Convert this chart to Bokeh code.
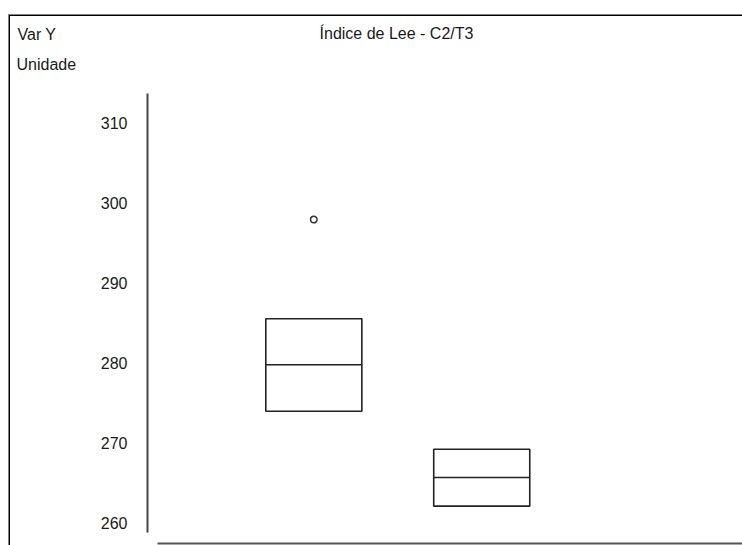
from bokeh.plotting import figure
from bokeh.models import Range1d, FixedTicker, Label, ColumnDataSource
from bokeh.embed import file_html
from bokeh.resources import INLINE

# ---- data ----
groups = ["C2", "T3"]
q1 = [273.95, 262.08]
median = [279.75, 265.66]
q3 = [285.5, 269.2]
outlier_group = ["C2"]
outlier_value = [297.9]
y_ticks = [260, 270, 280, 290, 300, 310]

title_text = "Índice de Lee - C2/T3"
var_label = "Var Y"
unit_label = "Unidade"

FONT = "Liberation Sans"
BOX_W = 0.572

pos = [i + 1 for i in range(len(groups))]
src = ColumnDataSource(dict(
    x=pos,
    q1=q1, q3=q3, med=median,
    x0=[p_ - BOX_W / 2 for p_ in pos],
    x1=[p_ + BOX_W / 2 for p_ in pos],
))
out_src = ColumnDataSource(dict(
    x=[groups.index(g) + 1 for g in outlier_group],
    y=outlier_value,
))

p = figure(width=742, height=545, output_backend="svg", toolbar_location=None,
           x_range=Range1d(-0.866, 3.553), y_range=Range1d(257.16, 325.29),
           min_border_left=0, min_border_right=0, min_border_top=0,
           min_border_bottom=0)
p.title.visible = False
p.outline_line_color = None
p.border_fill_color = None
p.background_fill_color = None
p.grid.visible = False

# outer window frame (top/left edges) drawn as page background lines
p.styles = {
    "background": (
        "linear-gradient(#808080,#808080) 8px 14px / 100% 1px no-repeat, "
        "linear-gradient(#000,#000) 9px 15px / 100% 1px no-repeat, "
        "linear-gradient(#808080,#808080) 8px 14px / 1px 100% no-repeat, "
        "linear-gradient(#000,#000) 9px 15px / 1px 100% no-repeat, #ffffff"
    )
}

# y axis
ya = p.yaxis[0]
ya.fixed_location = 0.0095
ya.ticker = FixedTicker(ticks=y_ticks)
ya.major_tick_out = 0
ya.major_tick_in = 0
ya.major_tick_line_color = None
ya.minor_tick_line_color = None
ya.major_label_standoff = 20
ya.major_label_text_font = FONT
ya.major_label_text_font_size = "16px"
ya.major_label_text_color = "#1a1a1a"
ya.axis_line_color = "#444444"
ya.axis_line_width = 2
ya.bounds = (258.75, 313.66)

# x axis (line only)
xa = p.xaxis[0]
xa.fixed_location = 257.41
xa.ticker = FixedTicker(ticks=[])
xa.major_tick_out = 0
xa.major_tick_in = 0
xa.major_tick_line_color = None
xa.minor_tick_line_color = None
xa.major_label_text_font_size = "0px"
xa.axis_line_color = "#555555"
xa.axis_line_width = 2
xa.bounds = (0.0691, 3.553)

# boxes
p.vbar(x="x", width=BOX_W, bottom="q1", top="q3", source=src,
       fill_color=None, line_color="#222222", line_width=1.6)
p.segment(x0="x0", x1="x1", y0="med", y1="med", source=src,
          line_color="#222222", line_width=1.6)
p.scatter(x="x", y="y", source=out_src, marker="circle", size=6.5,
          fill_color=None, line_color="#333333", line_width=1.5)

# header texts (screen units measured from the frame's bottom-left)
for txt, x, y, align in [(var_label, 17, 511.5, "left"),
                         (unit_label, 16, 481.5, "left"),
                         (title_text, 396, 512, "center")]:
    p.add_layout(Label(x=x, y=y, x_units="screen", y_units="screen", text=txt,
                       text_align=align, text_baseline="alphabetic",
                       text_font=FONT, text_font_size="16px",
                       text_color="#1a1a1a"))

open("out.html", "w").write(file_html(p, INLINE))
